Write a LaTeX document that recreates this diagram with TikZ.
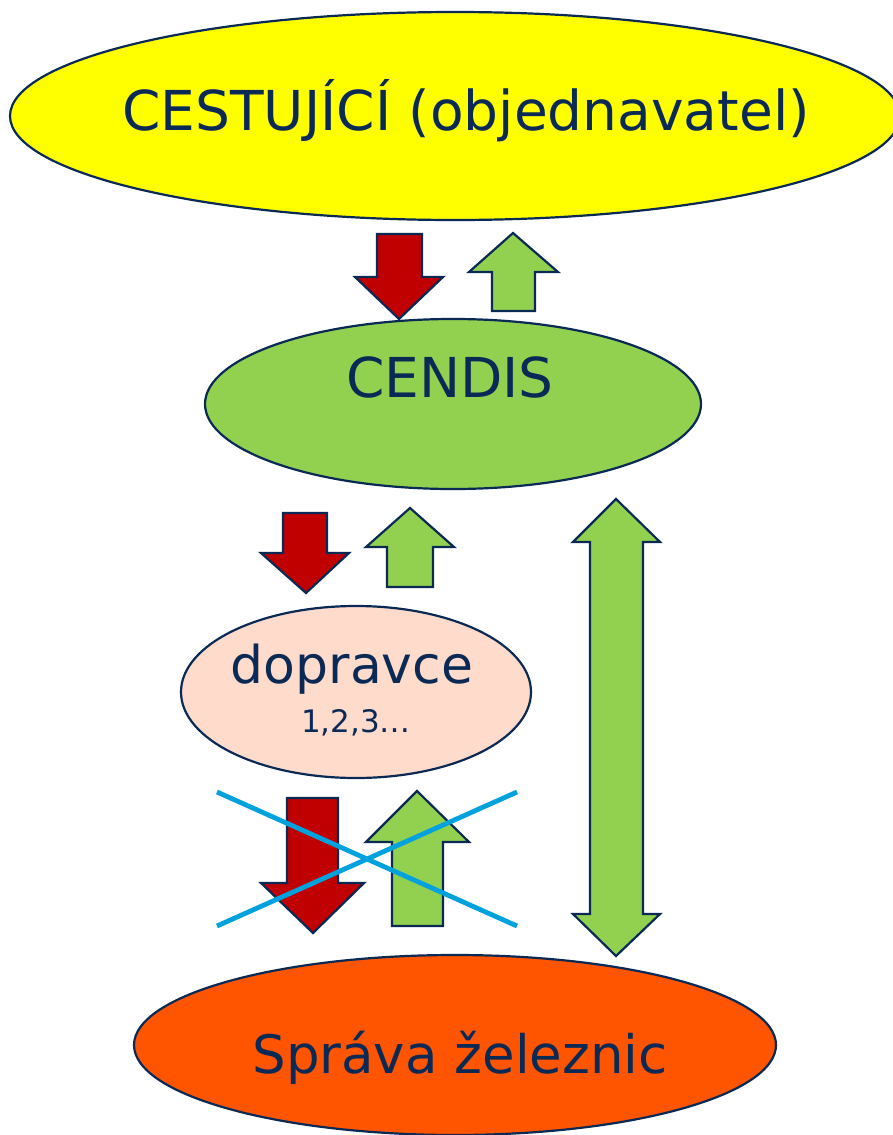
\documentclass[tikz,border=0pt]{standalone}
\usepackage{fontspec}
\setmainfont{DejaVu Sans}
\usepackage{tikz}
\usetikzlibrary{shapes.geometric,positioning}

\definecolor{navy}{RGB}{10,42,85}
\definecolor{cyellow}{RGB}{255,255,0}
\definecolor{cgreen}{RGB}{146,208,80}
\definecolor{cred}{RGB}{192,0,0}
\definecolor{cpeach}{RGB}{255,219,204}
\definecolor{corange}{RGB}{255,84,0}
\definecolor{cblue}{RGB}{0,162,222}

\tikzset{
  party/.style={ellipse, draw=navy, line width=2.2pt, inner sep=0pt},
  lbl/.style={text=navy, inner sep=0pt, anchor=base},
  redarrow/.style={fill=cred, draw=navy, line width=2.2pt, line join=miter},
  greenarrow/.style={fill=cgreen, draw=navy, line width=2.2pt, line join=miter},
  crossline/.style={draw=cblue, line width=4.8pt}
}

\begin{document}
\begin{tikzpicture}[x=1pt, y=-1pt]
\useasboundingbox (0,0) rectangle (893,1135);

\node [party, fill=cyellow, minimum width=890pt, minimum height=208pt] (cestujici) at (455,116) {};
\node [party, fill=cgreen, minimum width=496pt, minimum height=170pt] (cendis) at (453,404) {};
\node [party, fill=cpeach, minimum width=350pt, minimum height=172pt] (dopravce) at (356,692) {};
\node [party, fill=corange, minimum width=642pt, minimum height=180pt] (sz) at (455,1045) {};

\node [lbl, font=\fontsize{55}{60}\selectfont] (cestujici-t) at (466,130) {CESTUJÍCÍ (objednavatel)};
\node [lbl, font=\fontsize{55}{60}\selectfont] (cendis-t) at (450,397) {CENDIS};
\node [lbl, font=\fontsize{52}{58}\selectfont] (dopravce-t) at (352,683) {dopravce};
\node [lbl, font=\fontsize{31}{36}\selectfont] (dopravce-n) at (356,732) {1,2,3…};
\node [lbl, font=\fontsize{53}{58}\selectfont] (sz-t) at (460,1073) {Správa železnic};

% cestujici <-> CENDIS
\draw [redarrow] (377,234) -- (422,234) -- (422,277) -- (443,277) -- (399,319)
  -- (355,277) -- (377,277) -- cycle;
\draw [greenarrow] (492,311) -- (535,311) -- (535,272) -- (558,272) -- (513,233)
  -- (469,272) -- (492,272) -- cycle;

% CENDIS <-> dopravce
\draw [redarrow] (283,513) -- (327,513) -- (327,553) -- (349,553) -- (306,593)
  -- (261,553) -- (283,553) -- cycle;
\draw [greenarrow] (387,587) -- (433,587) -- (433,547) -- (454,547) -- (410,508)
  -- (366,547) -- (387,547) -- cycle;

% CENDIS <-> Sprava zeleznic
\draw [greenarrow] (616,499) -- (660,542) -- (643,542) -- (643,914) -- (660,914)
  -- (616,956) -- (573,914) -- (590,914) -- (590,542) -- (573,542) -- cycle;

% dopravce <-> Sprava zeleznic (zrušeno)
\draw [redarrow] (287,798) -- (338,798) -- (338,883) -- (364,883) -- (313,933)
  -- (261,883) -- (287,883) -- cycle;
\draw [greenarrow] (392,926) -- (443,926) -- (443,842) -- (469,842) -- (417,791)
  -- (366,842) -- (392,842) -- cycle;

\coordinate (x1) at (217,792);
\coordinate (x2) at (517,926);
\coordinate (x3) at (217,926);
\coordinate (x4) at (517,792);
\draw [crossline] (x1) -- (x2);
\draw [crossline] (x3) -- (x4);
\end{tikzpicture}
\end{document}
